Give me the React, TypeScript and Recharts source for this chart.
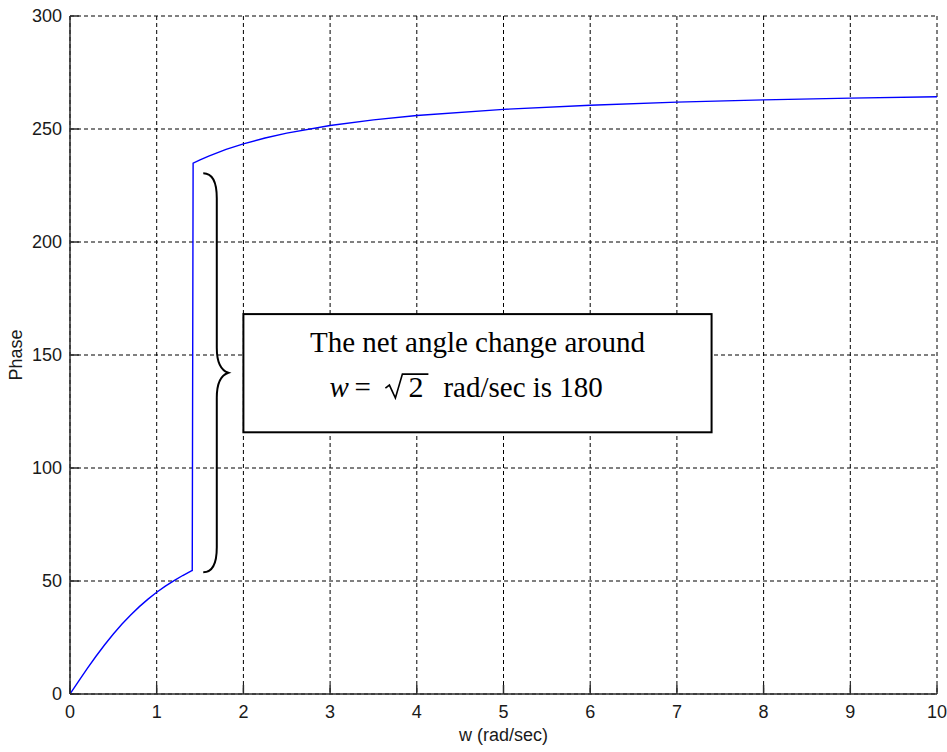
import React from 'react';
import { LineChart, Line, XAxis, YAxis, CartesianGrid, ReferenceArea } from 'recharts';

// angular frequency (rad/sec)
const frequencies = [
  0, 0.1, 0.2, 0.3, 0.4, 0.5, 0.6, 0.7, 0.8, 0.9, 1.0, 1.1, 1.2, 1.3, 1.4, 1.41,
  1.42, 1.5, 1.6, 1.8, 2.0, 2.25, 2.5, 3.0, 3.5, 4, 5, 6, 7, 8, 9, 10,
];
// phase (degrees)
const phases = [
  0, 5.71, 11.31, 16.7, 21.8, 26.57, 30.96, 34.99, 38.66, 41.99, 45.0, 47.73, 50.19, 52.43, 54.46, 54.65,
  234.85, 236.31, 237.99, 240.95, 243.43, 246.04, 248.2, 251.57, 254.05, 255.96, 258.69, 260.54, 261.87, 262.87, 263.66, 264.29,
];
const xTicks = [0, 1, 2, 3, 4, 5, 6, 7, 8, 9, 10];
const yTicks = [0, 50, 100, 150, 200, 250, 300];
const xLabel = 'w (rad/sec)';
const yLabel = 'Phase';
const noteLine1 = 'The net angle change around';
const noteVar = 'w';
const noteRadicand = '2';
const noteTail = 'rad/sec is 180';
// annotation placement in data units
const boxRange = { w1: 2.0, w2: 7.4, p1: 115.8, p2: 168.1 };
const braceRange = { w1: 1.537, w2: 1.826, p1: 53.9, p2: 230.4 };

const data = frequencies.map((w, i) => ({ w, phase: phases[i] }));

const tickFont = { fontFamily: '"Liberation Sans", Arial, Helvetica, sans-serif', fontSize: 18, fill: '#1a1a1a' };
const serif = '"Liberation Serif", "Times New Roman", Times, serif';
const frame = { stroke: '#2b2b2b', strokeWidth: 1.5 };

const BraceShape = (props: any) => {
  const { x, y, width, height } = props;
  const xm = x + width * 0.54;
  const ym = y + height / 2;
  const x1 = x + width;
  const yb = y + height;
  const c = 25;
  const d =
    `M${x},${y} C${x + width * 0.4},${y} ${xm},${y + 9} ${xm},${y + c} ` +
    `L${xm},${ym - c} C${xm},${ym - 9} ${x1 - 6},${ym - 2} ${x1},${ym} ` +
    `C${x1 - 6},${ym + 2} ${xm},${ym + 9} ${xm},${ym + c} ` +
    `L${xm},${yb - c} C${xm},${yb - 9} ${x + width * 0.4},${yb} ${x},${yb}`;
  return <path d={d} fill="none" stroke="#000" strokeWidth={2} />;
};

const NoteShape = (props: any) => {
  const { x, y, width, height } = props;
  const cx = x + width / 2;
  const base2 = y + 83;
  return (
    <g>
      <rect x={x} y={y} width={width} height={height} fill="#fff" stroke="#000" strokeWidth={2} />
      <text x={cx} y={y + 38} textAnchor="middle" fontFamily={serif} fontSize={29} fill="#000">
        {noteLine1}
      </text>
      <text x={x + 86} y={base2} fontFamily={serif} fontSize={29} fontStyle="italic" fill="#000">
        {noteVar}
      </text>
      <text x={x + 111} y={base2} fontFamily={serif} fontSize={29} fill="#000">
        =
      </text>
      <path
        d={`M${x + 142},${y + 74} L${x + 146},${y + 71} L${x + 152},${y + 84} L${x + 159},${y + 60} L${x + 185},${y + 60}`}
        fill="none"
        stroke="#000"
        strokeWidth={1.6}
      />
      <text x={x + 165} y={base2} fontFamily={serif} fontSize={30} fill="#000">
        {noteRadicand}
      </text>
      <text x={x + 200} y={base2} fontFamily={serif} fontSize={29} fill="#000">
        {noteTail}
      </text>
    </g>
  );
};

export default function App() {
  return (
    <div style={{ width: 947, height: 752, background: '#fff' }}>
      <style>{'body{margin:0}'}</style>
      <LineChart width={947} height={752} data={data} margin={{ top: 16, right: 10, bottom: 28, left: 0 }}>
        <CartesianGrid stroke="#000" strokeDasharray="4 3" strokeWidth={1} />
        <XAxis
          dataKey="w"
          type="number"
          domain={[0, 10]}
          ticks={xTicks}
          allowDataOverflow
          height={30}
          tickSize={-9}
          tickMargin={20}
          axisLine={frame}
          tickLine={frame}
          tick={tickFont}
          label={{ value: xLabel, position: 'bottom', offset: 4, style: { ...tickFont, fontSize: 18 } }}
        />
        <XAxis
          xAxisId="top"
          orientation="top"
          dataKey="w"
          type="number"
          domain={[0, 10]}
          ticks={xTicks}
          allowDataOverflow
          height={0}
          tickSize={-9}
          axisLine={frame}
          tickLine={frame}
          tick={false}
        />
        <YAxis
          type="number"
          domain={[0, 300]}
          ticks={yTicks}
          allowDataOverflow
          width={70}
          tickSize={-9}
          tickMargin={17}
          axisLine={frame}
          tickLine={frame}
          tick={tickFont}
          label={{
            value: yLabel,
            angle: -90,
            position: 'insideLeft',
            offset: 15.5,
            style: { ...tickFont, fontSize: 18, textAnchor: 'middle' },
          }}
        />
        <YAxis
          yAxisId="right"
          orientation="right"
          type="number"
          domain={[0, 300]}
          ticks={yTicks}
          allowDataOverflow
          width={0}
          tickSize={-9}
          axisLine={frame}
          tickLine={frame}
          tick={false}
        />
        <ReferenceArea
          x1={boxRange.w1}
          x2={boxRange.w2}
          y1={boxRange.p1}
          y2={boxRange.p2}
          shape={<NoteShape />}
        />
        <ReferenceArea
          x1={braceRange.w1}
          x2={braceRange.w2}
          y1={braceRange.p1}
          y2={braceRange.p2}
          shape={<BraceShape />}
        />
        <Line
          dataKey="phase"
          type="linear"
          stroke="#0000ff"
          strokeWidth={1.4}
          dot={false}
          activeDot={false}
          isAnimationActive={false}
        />
      </LineChart>
    </div>
  );
}
